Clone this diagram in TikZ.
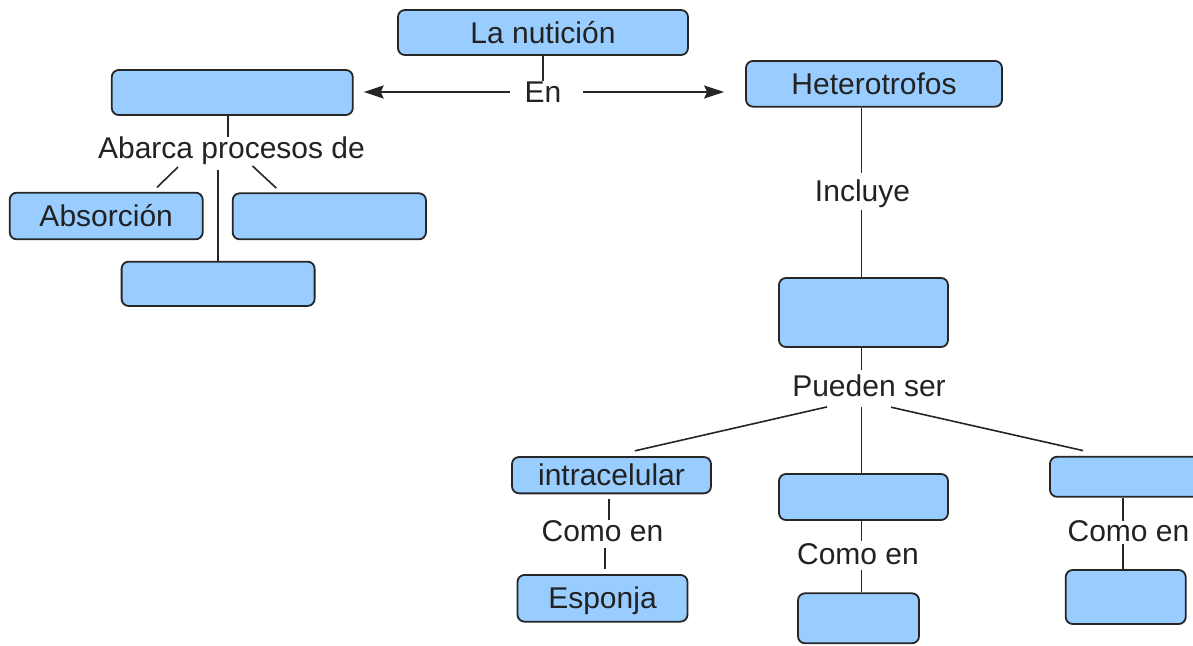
\documentclass[tikz,border=0pt]{standalone}
\usepackage{fontspec}
\setmainfont{Liberation Sans}
\usetikzlibrary{arrows.meta}
\definecolor{boxfill}{HTML}{99CCFF}
\definecolor{boxline}{HTML}{262626}
\definecolor{txt}{HTML}{222222}
\begin{document}
\begin{tikzpicture}[x=1pt,y=-1pt,
  box/.style={draw=boxline, line width=1.8pt, fill=boxfill, rounded corners=7pt, inner sep=0pt,
    text=txt, text height=21pt, text depth=0pt, font=\fontsize{30}{36}\selectfont},
  lbl/.style={inner sep=0pt, text height=21pt, text depth=0pt, text=txt, font=\fontsize{30}{36}\selectfont},
  conn/.style={draw=boxline, line width=1.6pt},
  arr/.style={-{Stealth[length=20pt,width=13pt,inset=3pt]}}
]
\useasboundingbox (0,0) rectangle (1193,645);
\clip (0,0) rectangle (1193,645);
\fill[white] (0,0) rectangle (1193,645);

% boxes
\node[box, minimum width=290pt, minimum height=45pt] (nut) at (543,32.5) {La nutición};
\node[box, minimum width=241pt, minimum height=45pt] (left) at (232.3,92.5) {};
\node[box, minimum width=256pt, minimum height=45.7pt] (het) at (874,83.8) {Heterotrofos};
\node[box, minimum width=193pt, minimum height=46.6pt] (abs) at (106.2,216) {Absorción};
\node[box, minimum width=193.3pt, minimum height=46pt] (proc2) at (329.3,216.3) {};
\node[box, minimum width=193pt, minimum height=44.3pt] (proc3) at (218.1,283.8) {};
\node[box, minimum width=169pt, minimum height=69pt] (mid) at (863.5,312.5) {};
\node[box, minimum width=199pt, minimum height=36.3pt] (intra) at (611.5,475.2) {intracelular};
\node[box, minimum width=169pt, minimum height=46pt] (mid2) at (863.5,497) {};
\node[box, minimum width=160pt, minimum height=40pt] (box3) at (1130,476.8) {};
\node[box, minimum width=170pt, minimum height=46.7pt] (esp) at (602.5,598.3) {Esponja};
\node[box, minimum width=121pt, minimum height=50pt] (bot2) at (858.5,618.3) {};
\node[box, minimum width=120pt, minimum height=54pt] (bot3) at (1125.7,597) {};

% labels
\node[lbl] (en) at (543,92) {En};
\node[lbl] (abarca) at (231.5,148.3) {Abarca procesos de};
\node[lbl] (incl) at (862.5,190.5) {Incluye};
\node[lbl] (pueden) at (869,385.5) {Pueden ser};
\node[lbl] (como1) at (602.5,530.5) {Como en};
\node[lbl] (como2) at (858,554) {Como en};
\node[lbl] (como3) at (1128.5,531.3) {Como en};

% connectors
\draw[conn] (nut.south) -- (en.north);
\draw[conn, arr, shorten <=14.7pt, shorten >=10pt] (en.west) -- (en.west -| left.east);
\draw[conn, arr, shorten <=21.4pt, shorten >=21pt] (en.east) -- (en.east -| het.west);

\draw[conn, shorten >=1pt] ([xshift=-4.5pt]left.south) -- ([xshift=-4.5pt]left.south |- abarca.north);
\draw[conn] ([xshift=-53.5pt,yshift=-8pt]abarca.south) -- ([xshift=50.8pt,yshift=4.4pt]abs.north);
\draw[conn] ([xshift=21pt,yshift=-7pt]abarca.south) -- ([xshift=-53pt,yshift=4.3pt]proc2.north);
\draw[conn] ([xshift=-13.4pt,yshift=-11.2pt]abarca.south) -- (proc3.north);

\draw[conn, shorten >=6.7pt] ([xshift=-12.5pt]het.south) -- ([xshift=-12.5pt]het.south |- incl.north);
\draw[conn, shorten <=9pt] ([xshift=-1pt]incl.south) -- ([xshift=-1pt]incl.south |- mid.north);
\draw[conn, shorten >=5pt] ([xshift=-2pt]mid.south) -- ([xshift=-2pt]mid.south |- pueden.north);

\draw[conn] ([xshift=-42pt,yshift=-10.7pt]pueden.south) -- ([xshift=23.3pt,yshift=5.3pt]intra.north);
\draw[conn] ([xshift=-7.5pt,yshift=-11pt]pueden.south) -- ([xshift=-7.5pt]pueden.south |- mid2.north);
\draw[conn] ([xshift=22pt,yshift=-11pt]pueden.south) -- ([xshift=34pt,yshift=5.3pt]box3.north west);

\draw[conn, shorten <=4.7pt] ([xshift=-2.5pt]intra.south) -- ([xshift=-2.5pt]intra.south |- como1.north);
\draw[conn, shorten <=7pt, shorten >=5pt] ([xshift=2.5pt]como1.south) -- ([xshift=2.5pt]como1.south |- esp.north);
\draw[conn, shorten >=2pt] ([xshift=-2pt]mid2.south) -- ([xshift=-2pt]mid2.south |- como2.north);
\draw[conn, shorten <=5.5pt] ([xshift=3.5pt]como2.south) -- ([xshift=3.5pt]como2.south |- bot2.north);
\draw[conn] ([xshift=-5.5pt]como3.north) -- ([xshift=-5.5pt]como3.north |- box3.south);
\draw[conn, shorten <=2pt] ([xshift=-5.5pt]como3.south) -- ([xshift=-5.5pt]como3.south |- bot3.north);
\end{tikzpicture}
\end{document}
